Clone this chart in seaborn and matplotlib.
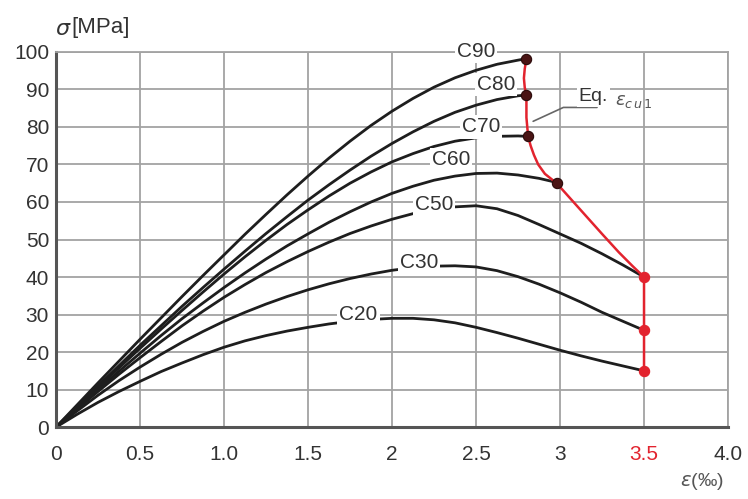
import numpy as np
import pandas as pd
import matplotlib
matplotlib.use("Agg")
import matplotlib.pyplot as plt
import seaborn as sns

# strain (per mille) and stress (MPa)
strain = [0, 0.125, 0.25, 0.375, 0.5, 0.625, 0.75, 0.875, 1.0, 1.125, 1.25, 1.375,
          1.5, 1.625, 1.75, 1.875, 2.0, 2.125, 2.25, 2.375, 2.5, 2.625, 2.75, 2.875,
          3.0, 3.125, 3.25, 3.375, 3.5]

c20 = [0, 3.4, 6.6, 9.5, 12.2, 14.8, 17.1, 19.3, 21.3, 23.0, 24.4, 25.6,
       26.6, 27.5, 28.2, 28.7, 29.0, 29.0, 28.6, 27.8, 26.6, 25.2, 23.7, 22.1,
       20.5, 19.0, 17.6, 16.3, 15.0]
c30 = [0, 4.3, 8.5, 12.4, 16.0, 19.4, 22.6, 25.5, 28.2, 30.6, 32.8, 34.8,
       36.6, 38.2, 39.6, 40.8, 41.8, 42.5, 42.9, 43.0, 42.7, 41.7, 40.1, 38.1,
       35.8, 33.3, 30.6, 28.2, 25.8]
c50 = [0, 4.8, 9.5, 14.1, 18.5, 22.8, 27.0, 30.9, 34.6, 38.0, 41.2, 44.1,
       46.8, 49.3, 51.6, 53.6, 55.4, 56.9, 58.0, 58.7, 59.0, 58.2, 56.4, 54.0,
       51.5, 49.0, 46.2, 43.2, 40.0]
c60 = [0, 5.0, 10.0, 14.9, 19.7, 24.4, 28.9, 33.1, 37.2, 41.1, 44.8, 48.3,
       51.5, 54.6, 57.4, 60.0, 62.3, 64.2, 65.8, 66.9, 67.6, 67.7, 67.2, 66.3,
       65.0]
# C70..C90 end at 2.8
strain_end = 2.8
c70 = [0, 5.3, 10.6, 15.8, 21.0, 26.1, 31.1, 36.0, 40.8, 45.4, 49.8, 54.0,
       57.9, 61.6, 65.0, 68.0, 70.7, 72.9, 74.8, 76.2, 77.1, 77.5, 77.6, 77.5]
c80 = [0, 5.5, 11.0, 16.4, 21.8, 27.0, 32.2, 37.2, 42.1, 46.9, 51.6, 56.1,
       60.5, 64.6, 68.5, 72.2, 75.6, 78.7, 81.5, 83.9, 85.8, 87.3, 88.3, 88.5]
c90 = [0, 5.9, 11.8, 17.6, 23.4, 29.1, 34.8, 40.4, 45.9, 51.4, 56.7, 61.9,
       66.9, 71.7, 76.2, 80.4, 84.2, 87.6, 90.6, 93.1, 95.1, 96.7, 97.8, 98.2]

grades = ["C20", "C30", "C50", "C60", "C70", "C80", "C90"]
stresses = [c20, c30, c50, c60, c70, c80, c90]

# label positions (strain, stress)
label_x = [1.80, 2.16, 2.25, 2.35, 2.53, 2.62, 2.50]
label_y = [30.1, 43.8, 59.3, 71.3, 80.0, 91.4, 100.0]

# ultimate strain eq. line
ecu_x = [2.80, 2.79, 2.785, 2.79, 2.80, 2.80, 2.80, 2.805, 2.81, 2.825, 2.845, 2.87,
         2.91, 2.98, 3.06, 3.15, 3.25, 3.35, 3.43, 3.50, 3.50, 3.50]
ecu_y = [98.2, 95.5, 93.0, 90.5, 88.5, 85.5, 82.5, 80.0, 77.5, 75.0, 72.5, 70.0,
         67.5, 65.0, 61.0, 56.5, 51.5, 46.6, 43.0, 40.0, 26.0, 15.0]

end_x_dark = [2.80, 2.80, 2.81, 2.98]
end_y_dark = [98.2, 88.5, 77.5, 65.0]
end_x_red = [3.50, 3.50, 3.50]
end_y_red = [40.0, 25.8, 15.0]

xticks = [0, 0.5, 1.0, 1.5, 2.0, 2.5, 3.0, 3.5, 4.0]
xtick_labels = ["0", "0.5", "1.0", "1.5", "2", "2.5", "3", "3.5", "4.0"]
yticks = list(range(0, 101, 10))

rows = []
for g, ys in zip(grades, stresses):
    xs = list(strain[:len(ys)])
    if len(ys) == 24:
        xs[-1] = strain_end
    for a, b in zip(xs, ys):
        rows.append((g, a, b))
df = pd.DataFrame(rows, columns=["grade", "strain", "stress"])

sns.set_style("white")
plt.rcParams["font.family"] = ["Liberation Sans", "DejaVu Sans"]

RED = "#e2232e"
TXT = "#333333"
GRID = "#a3a3a3"

fig = plt.figure(figsize=(7.48, 4.99), dpi=100)
ax = fig.add_axes([0.0749, 0.144, 0.8984, 0.752])

sns.lineplot(data=df, x="strain", y="stress", hue="grade", units="grade",
             estimator=None, sort=False, palette={g: "#1e1e1e" for g in grades},
             linewidth=2.0, legend=False, ax=ax, zorder=2,
             solid_joinstyle="round")

sns.lineplot(x=ecu_x, y=ecu_y, sort=False, estimator=None, color=RED,
             linewidth=1.8, ax=ax, zorder=4, solid_joinstyle="round")
sns.scatterplot(x=end_x_dark, y=end_y_dark, color="#4a1414", s=55,
                edgecolor="#2a0a0a", linewidth=0.8, ax=ax, zorder=5)
sns.scatterplot(x=end_x_red, y=end_y_red, color=RED, s=55,
                edgecolor=RED, linewidth=0.8, ax=ax, zorder=5)

for g, lx, ly in zip(grades, label_x, label_y):
    ax.text(lx, ly, g, ha="center", va="center", fontsize=15, color=TXT, zorder=3,
            bbox=dict(boxstyle="square,pad=0.1", fc="white", ec="none"))

# leader for Eq. ecu1
ax.plot([2.84, 3.02, 3.22], [81.5, 85.2, 85.2], color="#666666", lw=1.2, zorder=3)
ax.text(3.11, 88.0, "Eq.", ha="left", va="center", fontsize=14, color=TXT, zorder=3,
        bbox=dict(boxstyle="square,pad=0.1", fc="white", ec="none"))
ax.text(3.33, 86.8, r"$\varepsilon_{c\,u\,1}$", ha="left", va="center", fontsize=13,
        color="#555555", zorder=3)

ax.set_xlim(0, 4.0)
ax.set_ylim(0, 100)
ax.set_xticks(xticks)
ax.set_xticklabels(xtick_labels)
ax.set_yticks(yticks)
ax.tick_params(length=0, labelsize=15, labelcolor=TXT)
ax.tick_params(axis="x", pad=13)
ax.tick_params(axis="y", pad=5)
ax.get_xticklabels()[7].set_color(RED)
ax.grid(True, color=GRID, linewidth=1.3, zorder=0)
ax.set_axisbelow(True)
ax.set_xlabel("")
ax.set_ylabel("")

for side in ["left", "bottom"]:
    ax.spines[side].set_color("#555555")
    ax.spines[side].set_linewidth(2.2)
for side in ["top", "right"]:
    ax.spines[side].set_color(GRID)
    ax.spines[side].set_linewidth(1.3)

fig.text(0.073, 0.94, r"$\sigma$", fontsize=16, color=TXT, ha="left", va="center")
fig.text(0.095, 0.945, "[MPa]", fontsize=16, color=TXT, ha="left", va="center")
fig.text(0.938, 0.036, r"$\varepsilon$(‰)", fontsize=14, color="#555555",
         ha="center", va="center")

fig.savefig("out.png", dpi=100)
